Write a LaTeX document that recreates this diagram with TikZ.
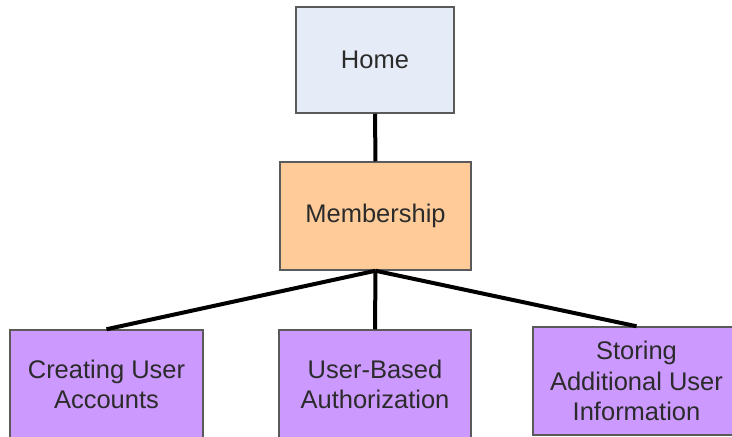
\documentclass[tikz,border=0pt]{standalone}
\usepackage{fontspec}
\setmainfont{Liberation Sans}
\definecolor{homefill}{HTML}{E6ECF7}
\definecolor{memfill}{HTML}{FFCC99}
\definecolor{subfill}{HTML}{CC99FF}
\definecolor{edgegray}{HTML}{5A5A5A}
\definecolor{txt}{HTML}{2B2B2B}
\tikzset{
  pagebox/.style={draw=edgegray, line width=1.5pt, rectangle, inner sep=0pt, align=center,
    text=txt, font=\fontsize{25.5}{30.6}\selectfont},
  link/.style={draw=black, line width=4pt}
}
\begin{document}
\begin{tikzpicture}[x=1pt,y=-1pt]
\useasboundingbox (0,0) rectangle (732,437);
\clip (0,0) rectangle (732,437);
\fill[white] (0,0) rectangle (732,437);
\node[pagebox, fill=homefill, minimum width=158pt, minimum height=106pt] (home) at (375,60) {Home};
\node[pagebox, fill=memfill, minimum width=191pt, minimum height=108pt] (mem) at (375.5,216) {Membership};
\node[pagebox, fill=subfill, minimum width=193pt, minimum height=109pt] (create) at (106.5,384.5) {Creating User\\Accounts};
\node[pagebox, fill=subfill, minimum width=192pt, minimum height=109pt] (auth) at (375,384.5) {User-Based\\Authorization};
\node[pagebox, fill=subfill, minimum width=207pt, minimum height=108pt] (store) at (636.5,381) {Storing\\Additional User\\Information};
\draw[link] (home.south) -- (mem.north);
\draw[link] (mem.south) -- (create.north);
\draw[link] (mem.south) -- (auth.north);
\draw[link] (mem.south) -- (store.north);
\end{tikzpicture}
\end{document}
